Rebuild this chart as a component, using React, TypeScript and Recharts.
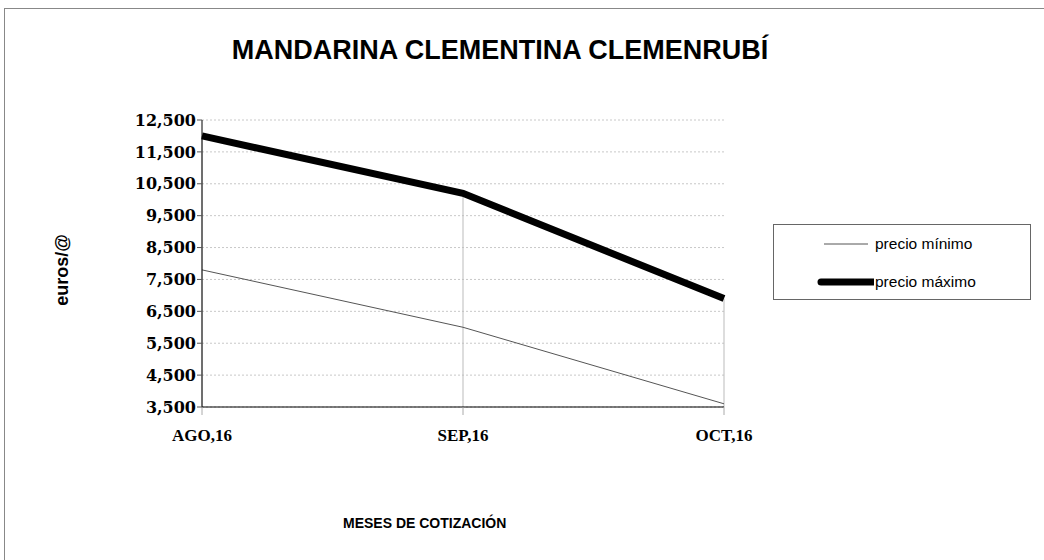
import { LineChart, Line, XAxis, YAxis, CartesianGrid, ReferenceLine } from 'recharts';

const months = ['AGO,16', 'SEP,16', 'OCT,16'];
const precioMinimo = [7.8, 6.0, 3.6];
const precioMaximo = [12.0, 10.2, 6.9];
const yTicks = [3.5, 4.5, 5.5, 6.5, 7.5, 8.5, 9.5, 10.5, 11.5, 12.5];

const data = months.map((m, i) => ({ month: m, min: precioMinimo[i], max: precioMaximo[i] }));

const series = [
  { key: 'min', name: 'precio mínimo', color: '#555', width: 1 },
  { key: 'max', name: 'precio máximo', color: '#000', width: 7 },
];

const xTickFont = { fill: '#000', fontSize: 17, fontWeight: 700, fontFamily: '"Liberation Serif", serif' };
const yTickFont = { fill: '#000', fontSize: 16, fontWeight: 700, fontFamily: '"DejaVu Serif", serif' };
const sans = 'Arial, "Liberation Sans", sans-serif';

export default function App() {
  return (
    <div
      style={{
        position: 'absolute',
        left: 4,
        top: 8,
        width: 1060,
        height: 570,
        border: '1px solid #888',
        background: '#fff',
        fontFamily: sans,
      }}
    >
      <div style={{ position: 'absolute', left: 0, width: 990, top: 26, textAlign: 'center', fontSize: 27, fontWeight: 700 }}>
        MANDARINA CLEMENTINA CLEMENRUBÍ
      </div>

      <div
        style={{
          position: 'absolute',
          left: 57,
          top: 261,
          fontSize: 18,
          fontWeight: 700,
          transform: 'translate(-50%, -50%) rotate(-90deg)',
          whiteSpace: 'nowrap',
        }}
      >
        euros/@
      </div>

      <div style={{ position: 'absolute', left: 338, top: 506, fontSize: 14, fontWeight: 700 }}>
        MESES DE COTIZACIÓN
      </div>

      <LineChart width={1040} height={552} data={data} margin={{ top: 111, right: 321, bottom: 124, left: 127 }}>
        <CartesianGrid vertical={false} stroke="#c8c8c8" strokeDasharray="2 2" />
        <XAxis
          dataKey="month"
          height={30}
          tick={xTickFont}
          tickSize={8}
          tickMargin={14}
          axisLine={{ stroke: '#000' }}
          tickLine={{ stroke: '#aaa' }}
        />
        <YAxis
          width={70}
          domain={[3.5, 12.5]}
          ticks={yTicks}
          interval={0}
          tick={yTickFont}
          tickSize={5}
          tickMargin={1}
          axisLine={{ stroke: '#000' }}
          tickLine={{ stroke: '#555' }}
          tickFormatter={(v: number) => v.toFixed(3).replace('.', ',')}
        />
        {data.map(d => (
          <ReferenceLine
            key={d.month}
            segment={[{ x: d.month, y: 3.5 }, { x: d.month, y: d.max }]}
            stroke="#bbb"
          />
        ))}
        {series.map(s => (
          <Line
            key={s.key}
            dataKey={s.key}
            name={s.name}
            stroke={s.color}
            strokeWidth={s.width}
            dot={false}
            activeDot={false}
            isAnimationActive={false}
          />
        ))}
      </LineChart>

      <div
        style={{
          position: 'absolute',
          left: 768,
          top: 215,
          width: 258,
          height: 76,
          border: '1px solid #666',
          boxSizing: 'border-box',
          fontSize: 15.5,
        }}
      >
        {series.map((s, i) => (
          <div key={s.key} style={{ position: 'absolute', left: 0, top: 9 + i * 38, height: 20, display: 'flex', alignItems: 'center' }}>
            <svg width={100} height={20}>
              <line
                x1={s.width > 1 ? 47 : 50}
                x2={s.width > 1 ? 99 : 94}
                y1={10}
                y2={10}
                stroke={s.color}
                strokeWidth={s.width}
                strokeLinecap={s.width > 1 ? 'round' : 'butt'}
              />
            </svg>
            <span style={{ marginLeft: 1 }}>{s.name}</span>
          </div>
        ))}
      </div>
    </div>
  );
}
